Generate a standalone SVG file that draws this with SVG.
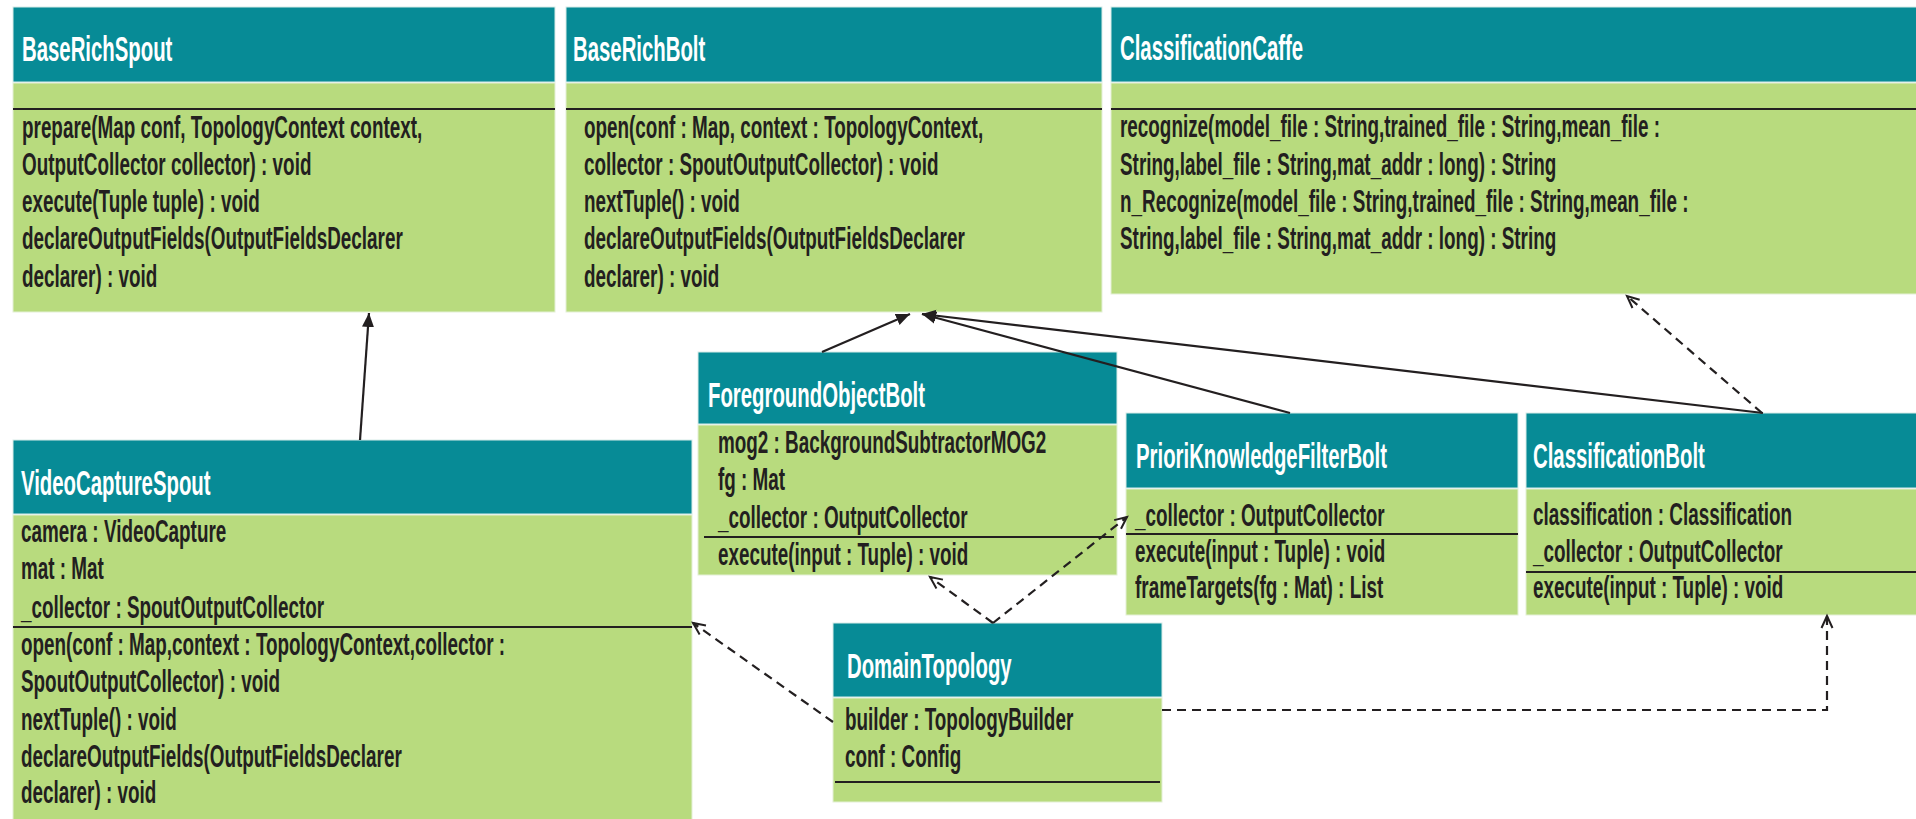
<svg xmlns="http://www.w3.org/2000/svg" width="1916" height="819" viewBox="0 0 1916 819">
<style>
.hd{fill:#078b96;stroke:#d8ece8;stroke-width:1}
.bd{fill:#b8db7e;stroke:#e4f0d6;stroke-width:1}
.dv{stroke:#231f20;stroke-width:2}
.ht{font-family:"Liberation Sans",Arial,sans-serif;font-weight:bold;font-size:34.5px;fill:#ffffff}
.bt{font-family:"Liberation Sans",Arial,sans-serif;font-weight:bold;font-size:32px;fill:#231f20}
.sl{fill:none;stroke:#231f20;stroke-width:2.2}
.dl{fill:none;stroke:#231f20;stroke-width:2.2;stroke-dasharray:9 6}
</style>
<defs>
<marker id="fa" markerUnits="userSpaceOnUse" markerWidth="16" markerHeight="14" refX="14" refY="7" orient="auto">
<path d="M0,1 L14,7 L0,13 z" fill="#231f20"/>
</marker>
<marker id="oa" markerUnits="userSpaceOnUse" markerWidth="16" markerHeight="14" refX="13" refY="7" orient="auto">
<path d="M1,1.5 L13,7 L1,12.5" fill="none" stroke="#231f20" stroke-width="2"/>
</marker>
</defs>
<rect width="1916" height="819" fill="#ffffff"/>

<g id="BaseRichSpout">
<rect class="bd" x="13" y="83" width="542" height="229"/>
<rect class="hd" x="13" y="7" width="542" height="75"/>
<line class="dv" x1="13" y1="109" x2="555" y2="109"/>
<g transform="translate(22,0) scale(0.59,1)">
<text class="ht" y="61">BaseRichSpout</text>
<text class="bt" y="138">prepare(Map conf, TopologyContext context,</text>
<text class="bt" y="175">OutputCollector collector) : void</text>
<text class="bt" y="212">execute(Tuple tuple) : void</text>
<text class="bt" y="249">declareOutputFields(OutputFieldsDeclarer</text>
<text class="bt" y="287">declarer) : void</text>
</g>
</g>

<g id="BaseRichBolt">
<rect class="bd" x="566" y="83" width="536" height="229"/>
<rect class="hd" x="566" y="7" width="536" height="75"/>
<line class="dv" x1="566" y1="109" x2="1102" y2="109"/>
<g transform="translate(573,0) scale(0.59,1)">
<text class="ht" y="61">BaseRichBolt</text>
</g>
<g transform="translate(584,0) scale(0.59,1)">
<text class="bt" y="138">open(conf : Map, context : TopologyContext,</text>
<text class="bt" y="175">collector : SpoutOutputCollector) : void</text>
<text class="bt" y="212">nextTuple() : void</text>
<text class="bt" y="249">declareOutputFields(OutputFieldsDeclarer</text>
<text class="bt" y="287">declarer) : void</text>
</g>
</g>

<g id="ClassificationCaffe">
<rect class="bd" x="1111" y="83" width="810" height="211"/>
<rect class="hd" x="1111" y="7" width="810" height="75"/>
<line class="dv" x1="1111" y1="109" x2="1916" y2="109"/>
<g transform="translate(1120,0) scale(0.59,1)">
<text class="ht" y="60">ClassificationCaffe</text>
<text class="bt" y="137">recognize(model_file : String,trained_file : String,mean_file :</text>
<text class="bt" y="175">String,label_file : String,mat_addr : long) : String</text>
<text class="bt" y="212">n_Recognize(model_file : String,trained_file : String,mean_file :</text>
<text class="bt" y="249">String,label_file : String,mat_addr : long) : String</text>
</g>
</g>

<g id="VideoCaptureSpout">
<rect class="bd" x="13" y="515" width="679" height="310"/>
<rect class="hd" x="13" y="440" width="679" height="74"/>
<line class="dv" x1="13" y1="627" x2="692" y2="627"/>
<g transform="translate(21,0) scale(0.59,1)">
<text class="ht" y="495">VideoCaptureSpout</text>
<text class="bt" y="542">camera : VideoCapture</text>
<text class="bt" y="579">mat : Mat</text>
<text class="bt" y="618">_collector : SpoutOutputCollector</text>
<text class="bt" y="655">open(conf : Map,context : TopologyContext,collector :</text>
<text class="bt" y="692">SpoutOutputCollector) : void</text>
<text class="bt" y="730">nextTuple() : void</text>
<text class="bt" y="767">declareOutputFields(OutputFieldsDeclarer</text>
<text class="bt" y="803">declarer) : void</text>
</g>
</g>

<g id="ForegroundObjectBolt">
<rect class="bd" x="698" y="425" width="419" height="150"/>
<rect class="hd" x="698" y="352" width="419" height="72"/>
<line class="dv" x1="704" y1="537" x2="1114" y2="537"/>
<g transform="translate(708,0) scale(0.59,1)">
<text class="ht" y="407">ForegroundObjectBolt</text>
</g>
<g transform="translate(718,0) scale(0.59,1)">
<text class="bt" y="453">mog2 : BackgroundSubtractorMOG2</text>
<text class="bt" y="490">fg : Mat</text>
<text class="bt" y="528">_collector : OutputCollector</text>
<text class="bt" y="565">execute(input : Tuple) : void</text>
</g>
</g>

<g id="PrioriKnowledgeFilterBolt">
<rect class="bd" x="1126" y="489" width="392" height="126"/>
<rect class="hd" x="1126" y="413" width="392" height="75"/>
<line class="dv" x1="1126" y1="534" x2="1518" y2="534"/>
<g transform="translate(1136,0) scale(0.59,1)">
<text class="ht" y="468">PrioriKnowledgeFilterBolt</text>
</g>
<g transform="translate(1135,0) scale(0.59,1)">
<text class="bt" y="526">_collector : OutputCollector</text>
<text class="bt" y="562">execute(input : Tuple) : void</text>
<text class="bt" y="598">frameTargets(fg : Mat) : List</text>
</g>
</g>

<g id="ClassificationBolt">
<rect class="bd" x="1526" y="489" width="395" height="126"/>
<rect class="hd" x="1526" y="413" width="395" height="75"/>
<line class="dv" x1="1526" y1="572" x2="1916" y2="572"/>
<g transform="translate(1533,0) scale(0.59,1)">
<text class="ht" y="468">ClassificationBolt</text>
<text class="bt" y="525">classification : Classification</text>
<text class="bt" y="562">_collector : OutputCollector</text>
<text class="bt" y="598">execute(input : Tuple) : void</text>
</g>
</g>

<g id="DomainTopology">
<rect class="bd" x="833" y="698" width="329" height="104"/>
<rect class="hd" x="833" y="623" width="329" height="74"/>
<line class="dv" x1="835" y1="782" x2="1160" y2="782"/>
<g transform="translate(847,0) scale(0.59,1)">
<text class="ht" y="678">DomainTopology</text>
</g>
<g transform="translate(845,0) scale(0.59,1)">
<text class="bt" y="730">builder : TopologyBuilder</text>
<text class="bt" y="767">conf : Config</text>
</g>
</g>

<g id="connectors">
<line class="sl" x1="360" y1="440" x2="369" y2="313" marker-end="url(#fa)"/>
<line class="sl" x1="822" y1="352" x2="910" y2="314" marker-end="url(#fa)"/>
<line class="sl" x1="1290" y1="413" x2="922" y2="314" marker-end="url(#fa)"/>
<line class="sl" x1="1763" y1="413" x2="922" y2="314" marker-end="url(#fa)"/>
<line class="dl" x1="833" y1="722" x2="693" y2="623" marker-end="url(#oa)"/>
<line class="dl" x1="993" y1="623" x2="930" y2="577" marker-end="url(#oa)"/>
<line class="dl" x1="993" y1="623" x2="1127" y2="517" marker-end="url(#oa)"/>
<polyline class="dl" points="1162,710 1827,710 1827,616" marker-end="url(#oa)"/>
<line class="dl" x1="1762" y1="413" x2="1627" y2="296" marker-end="url(#oa)"/>
</g>
</svg>
